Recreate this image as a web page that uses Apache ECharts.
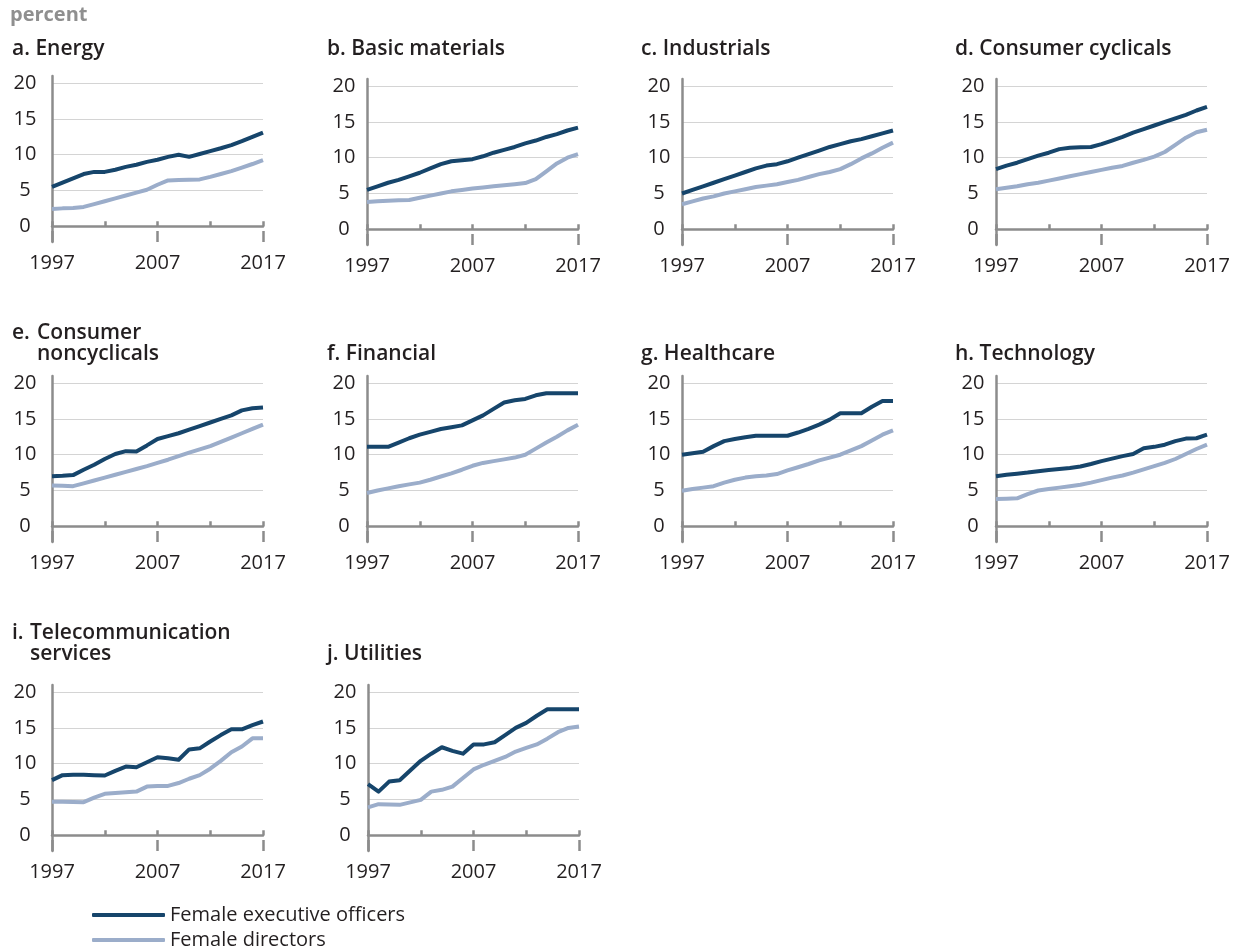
<!DOCTYPE html>
<html>
<head>
<meta charset="utf-8">
<script src="https://cdn.jsdelivr.net/npm/echarts@6/dist/echarts.min.js"></script>
<style>
  html, body { margin: 0; padding: 0; background: #ffffff; }
  #chart { width: 1235px; height: 949px; }
</style>
</head>
<body>
<div id="chart"></div>
<script>
// Share of women among executive officers and directors, by sector, 1997-2017 (percent)
const years = ['1997','1998','1999','2000','2001','2002','2003','2004','2005','2006','2007',
               '2008','2009','2010','2011','2012','2013','2014','2015','2016','2017'];
const yTickValues = [0, 5, 10, 15, 20];
const seriesNames = ['Female executive officers', 'Female directors'];
const unitLabel = 'percent';

const panelLetters = ['a.', 'b.', 'c.', 'd.', 'e.', 'f.', 'g.', 'h.', 'i.', 'j.'];
const panelNames = ['Energy', 'Basic materials', 'Industrials', 'Consumer cyclicals',
                    'Consumer\nnoncyclicals', 'Financial', 'Healthcare', 'Technology',
                    'Telecommunication\nservices', 'Utilities'];

const energyExec  = [5.5,6.1,6.7,7.3,7.6,7.6,7.9,8.3,8.6,9.0,9.3,9.7,10.0,9.7,10.1,10.5,10.9,11.35,11.9,12.5,13.1];
const energyDir   = [2.4,2.5,2.55,2.7,3.1,3.5,3.9,4.3,4.7,5.1,5.8,6.4,6.45,6.5,6.55,6.9,7.3,7.7,8.2,8.7,9.25];
const materialsExec = [5.5,6.0,6.5,6.9,7.4,7.9,8.5,9.1,9.5,9.65,9.8,10.2,10.7,11.1,11.5,12.0,12.4,12.9,13.3,13.8,14.2];
const materialsDir  = [3.8,3.9,4.0,4.05,4.1,4.4,4.7,5.0,5.3,5.5,5.7,5.85,6.0,6.15,6.3,6.45,7.0,8.1,9.2,10.0,10.5];
const industrialsExec = [5.0,5.5,6.0,6.5,7.0,7.5,8.0,8.5,8.9,9.1,9.5,10.0,10.5,11.0,11.5,11.9,12.3,12.6,13.0,13.4,13.8];
const industrialsDir  = [3.5,3.9,4.3,4.6,5.0,5.3,5.6,5.9,6.1,6.3,6.6,6.9,7.3,7.7,8.0,8.4,9.1,9.9,10.6,11.4,12.1];
const cyclicalsExec = [8.4,8.9,9.3,9.8,10.3,10.7,11.2,11.4,11.45,11.5,11.9,12.4,12.9,13.5,14.0,14.5,15.0,15.5,16.0,16.6,17.1];
const cyclicalsDir  = [5.6,5.8,6.0,6.3,6.5,6.8,7.1,7.4,7.7,8.0,8.3,8.6,8.85,9.3,9.7,10.15,10.8,11.8,12.8,13.55,13.9];
const noncyclicalsExec = [7.0,7.05,7.15,7.9,8.6,9.4,10.1,10.5,10.45,11.3,12.2,12.6,13.0,13.5,14.0,14.5,15.0,15.5,16.2,16.5,16.6];
const noncyclicalsDir  = [5.7,5.65,5.6,6.0,6.4,6.8,7.2,7.6,8.0,8.4,8.85,9.3,9.8,10.3,10.75,11.2,11.8,12.4,13.0,13.6,14.2];
const financialExec = [11.1,11.1,11.1,11.7,12.3,12.8,13.2,13.6,13.85,14.1,14.8,15.5,16.4,17.3,17.6,17.8,18.3,18.6,18.6,18.6,18.6];
const financialDir  = [4.65,5.0,5.3,5.6,5.85,6.1,6.5,6.95,7.4,7.9,8.45,8.85,9.1,9.35,9.6,10.0,10.85,11.7,12.5,13.4,14.2];
const healthcareExec = [10.0,10.2,10.4,11.2,11.9,12.2,12.45,12.65,12.65,12.65,12.65,13.1,13.6,14.2,14.9,15.8,15.8,15.8,16.7,17.5,17.5];
const healthcareDir  = [4.95,5.2,5.4,5.6,6.1,6.5,6.8,7.0,7.1,7.3,7.8,8.25,8.7,9.2,9.6,10.0,10.6,11.2,12.0,12.8,13.4];
const technologyExec = [7.0,7.2,7.35,7.5,7.7,7.85,8.0,8.15,8.35,8.7,9.1,9.45,9.8,10.1,10.9,11.1,11.4,11.9,12.25,12.3,12.8];
const technologyDir  = [3.8,3.85,3.9,4.5,5.0,5.2,5.4,5.6,5.8,6.1,6.45,6.8,7.1,7.5,7.95,8.4,8.85,9.4,10.1,10.8,11.4];
const telecomExec = [7.7,8.4,8.45,8.45,8.4,8.35,9.0,9.6,9.5,10.2,10.9,10.75,10.55,12.0,12.15,13.1,14.0,14.8,14.8,15.4,15.9];
const telecomDir  = [4.7,4.68,4.65,4.62,5.25,5.8,5.9,6.0,6.1,6.8,6.9,6.9,7.3,7.9,8.4,9.3,10.4,11.6,12.4,13.55,13.55];
const utilitiesExec = [7.15,6.1,7.5,7.7,9.05,10.4,11.4,12.3,11.8,11.4,12.7,12.7,13.0,14.0,15.0,15.7,16.7,17.6,17.6,17.6,17.6];
const utilitiesDir  = [3.9,4.35,4.3,4.25,4.6,4.95,6.1,6.35,6.8,8.0,9.2,9.85,10.4,10.95,11.7,12.2,12.7,13.5,14.4,15.0,15.2];

const execByPanel = [energyExec, materialsExec, industrialsExec, cyclicalsExec, noncyclicalsExec,
                     financialExec, healthcareExec, technologyExec, telecomExec, utilitiesExec];
const dirByPanel  = [energyDir, materialsDir, industrialsDir, cyclicalsDir, noncyclicalsDir,
                     financialDir, healthcareDir, technologyDir, telecomDir, utilitiesDir];

// ---- layout and style ----
const FONT = '"Open Sans", Lato, sans-serif';
const TEXT_COLOR = '#231f20';
const AXIS_COLOR = '#8c8c8c';
const GRID_LINE = '#d4d4d4';
const EXEC_COLOR = '#16456b';
const DIR_COLOR = '#9badca';

const GRID_W = 211, GRID_H = 166;
const panelBoxes = [
  { left: 52,  top: 76,  labelMargin: 27 }, { left: 367, top: 79,  labelMargin: 23 },
  { left: 682, top: 79,  labelMargin: 23 }, { left: 996, top: 79,  labelMargin: 23 },
  { left: 52,  top: 376, labelMargin: 27 }, { left: 367, top: 376, labelMargin: 23 },
  { left: 682, top: 376, labelMargin: 23 }, { left: 996, top: 376, labelMargin: 23 },
  { left: 52,  top: 685, labelMargin: 27 }, { left: 368, top: 685, labelMargin: 23 }
];
// Title anchors: x of the letter, baseline of the first line, and (for two-line titles) x of the hanging name
const titleSpots = [
  { x: 12, base: 57 }, { x: 327, base: 57 }, { x: 641, base: 57 }, { x: 955, base: 57 },
  { x: 12, base: 341, nameX: 37 }, { x: 327, base: 362 }, { x: 641, base: 362 }, { x: 955, base: 362 },
  { x: 12, base: 641, nameX: 30 }, { x: 327, base: 662 }
];

const TITLE_SIZE = 21, TITLE_LH = 21;
function titleText(str, x, base, opts) {
  return {
    type: 'text', x: x, y: base - 8 - TITLE_LH / 2, silent: true,
    style: Object.assign({
      text: str, fill: TEXT_COLOR, fontFamily: FONT, fontSize: TITLE_SIZE, fontWeight: 600,
      lineHeight: TITLE_LH, align: 'left', verticalAlign: 'top'
    }, opts || {})
  };
}

const grids = [], xAxes = [], yAxes = [], series = [], graphics = [];

graphics.push(titleText(unitLabel, 10, 23, { fill: '#8f8f8f', fontWeight: 'bold', fontSize: 20 }));

panelBoxes.forEach((box, i) => {
  grids.push({ left: box.left, top: box.top, width: GRID_W, height: GRID_H, containLabel: false });

  // main x axis: axis line plus short ticks every five years
  xAxes.push({
    type: 'category', data: years, gridIndex: i, boundaryGap: false,
    axisLine: { show: true, lineStyle: { color: AXIS_COLOR, width: 2.5 } },
    axisTick: { show: true, inside: true, length: 5, interval: 4, lineStyle: { color: AXIS_COLOR, width: 2.5 } },
    axisLabel: { show: false },
    splitLine: { show: false }
  });
  // overlay x axis: longer ticks and labels every ten years
  xAxes.push({
    type: 'category', data: years, gridIndex: i, boundaryGap: false, position: 'bottom',
    axisLine: { show: false },
    axisTick: { show: true, inside: true, length: 11, interval: 9, lineStyle: { color: AXIS_COLOR, width: 2.5 } },
    axisLabel: { show: true, interval: 9, margin: 11, fontFamily: FONT, fontSize: 20, color: TEXT_COLOR },
    splitLine: { show: false }
  });

  yAxes.push({
    type: 'value', gridIndex: i, min: -2.2, max: 21,
    axisLine: { show: true, lineStyle: { color: AXIS_COLOR, width: 2.5 } },
    axisTick: { show: false, customValues: yTickValues },
    axisLabel: {
      customValues: yTickValues, align: 'center', margin: box.labelMargin,
      fontFamily: FONT, fontSize: 20, color: TEXT_COLOR
    },
    splitLine: { show: true, lineStyle: { color: GRID_LINE, width: 1 } }
  });

  series.push({
    name: seriesNames[1], type: 'line', xAxisIndex: 2 * i, yAxisIndex: i,
    data: dirByPanel[i], symbol: 'none', silent: true,
    lineStyle: { color: DIR_COLOR, width: 4, join: 'round' }, itemStyle: { color: DIR_COLOR }, z: 2
  });
  series.push({
    name: seriesNames[0], type: 'line', xAxisIndex: 2 * i, yAxisIndex: i,
    data: execByPanel[i], symbol: 'none', silent: true,
    lineStyle: { color: EXEC_COLOR, width: 4, join: 'round' }, itemStyle: { color: EXEC_COLOR }, z: 3
  });

  const spot = titleSpots[i];
  if (spot.nameX !== undefined) {
    graphics.push(titleText(panelLetters[i], spot.x, spot.base));
    graphics.push(titleText(panelNames[i], spot.nameX, spot.base));
  } else {
    graphics.push(titleText(panelLetters[i] + ' ' + panelNames[i], spot.x, spot.base));
  }
});

const chart = echarts.init(document.getElementById('chart'), null, { renderer: 'canvas' });
chart.setOption({
  backgroundColor: '#ffffff',
  animation: false,
  grid: grids,
  xAxis: xAxes,
  yAxis: yAxes,
  series: series,
  graphic: graphics,
  legend: {
    data: seriesNames, orient: 'vertical', left: 92, top: 905, width: 400, height: 60, padding: 0,
    icon: 'roundRect', itemWidth: 73, itemHeight: 4, itemGap: 5, selectedMode: false,
    textStyle: { fontFamily: FONT, fontSize: 20, lineHeight: 20, color: TEXT_COLOR }
  }
});
</script>
</body>
</html>
